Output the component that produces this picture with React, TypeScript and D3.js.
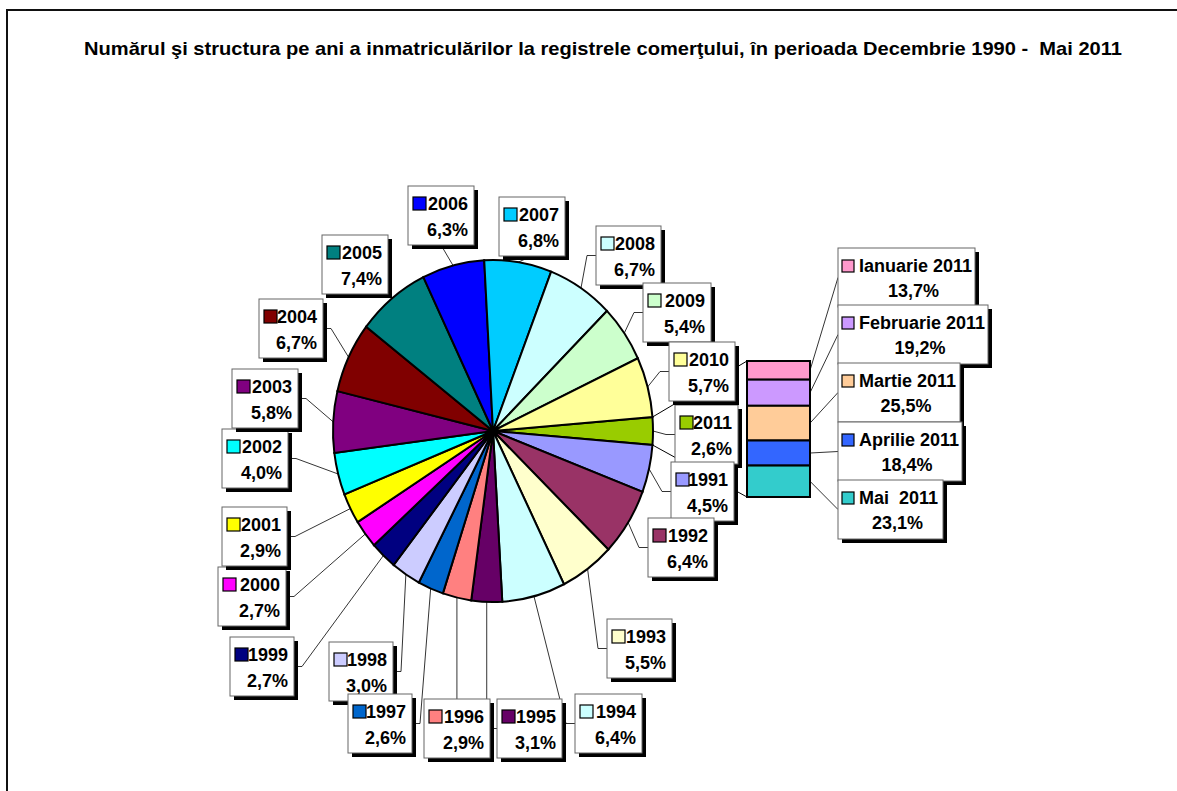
import * as d3 from 'd3';

const title =
  'Numărul şi structura pe ani a inmatriculărilor la registrele comerţului, în perioada Decembrie 1990 -  Mai 2011';

// main pie: 2011 is the slice that is split into months
const years = ['2011', '1991', '1992', '1993', '1994', '1995', '1996', '1997', '1998', '1999', '2000',
  '2001', '2002', '2003', '2004', '2005', '2006', '2007', '2008', '2009', '2010'];
const yearShares = [2.6, 4.5, 6.4, 5.5, 6.4, 3.1, 2.9, 2.6, 3.0, 2.7, 2.7, 2.9, 4.0, 5.8, 6.7, 7.4, 6.3, 6.8, 6.7, 5.4, 5.7];
const yearColors = ['#99cc00', '#9999ff', '#993366', '#ffffcc', '#ccffff', '#660066', '#ff8080', '#0066cc',
  '#ccccff', '#000080', '#ff00ff', '#ffff00', '#00ffff', '#800080', '#800000', '#008080', '#0000ff',
  '#00ccff', '#ccffff', '#ccffcc', '#ffff99'];

// secondary bar
const months = ['Ianuarie 2011', 'Februarie 2011', 'Martie 2011', 'Aprilie 2011', 'Mai  2011'];
const monthShares = [13.7, 19.2, 25.5, 18.4, 23.1];
const monthColors = ['#ff99cc', '#cc99ff', '#ffcc99', '#3366ff', '#33cccc'];

// label box placement: x, y, width, side where the leader line meets the box
const yearBoxes: Record<string, [number, number, number, string]> = {
  '2011': [675, 405, 63, 'l'],
  '1991': [671, 462, 63, 'l'],
  '1992': [648, 518, 66, 'l'],
  '1993': [607, 619, 65, 'l'],
  '1994': [575, 694, 67, 'l'],
  '1995': [497, 699, 65, 'v'],
  '1996': [424, 699, 66, 't'],
  '1997': [348, 694, 64, 'r'],
  '1998': [329, 642, 64, 'r'],
  '1999': [230, 637, 64, 'r'],
  '2000': [218, 567, 68, 'r'],
  '2001': [222, 507, 65, 'r'],
  '2002': [222, 429, 66, 'r'],
  '2003': [232, 369, 66, 'r'],
  '2004': [259, 299, 64, 'r'],
  '2005': [322, 235, 66, 'n'],
  '2006': [408, 186, 66, 'b'],
  '2007': [499, 197, 66, 'b'],
  '2008': [596, 226, 65, 'l'],
  '2009': [643, 283, 68, 'l'],
  '2010': [669, 342, 66, 'l'],
};
// drawing order of the boxes (later ones on top)
const boxOrder = ['2011', '1991', '1992', '1993', '1994', '1995', '1996', '1998', '1997', '1999', '2000',
  '2001', '2002', '2003', '2004', '2005', '2006', '2007', '2008', '2009', '2010'];
const monthBoxes: [number, number, number][] = [
  [838, 248, 137],
  [838, 305, 150],
  [838, 363, 122],
  [838, 422, 124],
  [838, 480, 105],
];

const W = 1177;
const H = 791;
const cx = 493;
const cy = 431;
const rx = 160;
const ry = 171;
const boxH = 59;
const font = '"Liberation Sans", Arial, sans-serif';

const fmt = (v: number) => v.toFixed(1).replace('.', ',') + '%';

export default function App() {
  const total = d3.sum(yearShares);
  const start = Math.PI / 2 - (yearShares[0] / total) * Math.PI;
  const pie = d3
    .pie<number>()
    .sort(null)
    .startAngle(start)
    .endAngle(start + 2 * Math.PI);
  const arcs = pie(yearShares);
  const arc = d3.arc<d3.PieArcDatum<number>>().innerRadius(0).outerRadius(rx);
  const edge = (a: number): [number, number] => [cx + rx * Math.sin(a), cy - ry * Math.cos(a)];

  // stacked bar of 2011 months
  const barX = 747;
  const barW = 63;
  const y = d3.scaleLinear().domain([0, d3.sum(monthShares)]).range([361, 497]);
  const cum = d3.cumsum(monthShares);
  const segs = monthShares.map((v, i) => ({ y0: y(cum[i] - v), y1: y(cum[i]) }));

  const line = d3.line();

  const leader = (i: number): [number, number][] | null => {
    const a = (arcs[i].startAngle + arcs[i].endAngle) / 2;
    const p = edge(a);
    const [x, by, w, side] = yearBoxes[years[i]];
    const my = by + boxH / 2;
    if (side === 'l') return [p, [x - 9, my], [x, my]];
    if (side === 'r') return [p, [x + w + 8, my], [x + w, my]];
    if (side === 't') return [p, [p[0], by]];
    if (side === 'b') return [p, [x + w / 2, by + boxH]];
    if (side === 'v') return [p, [p[0], my], [x, my]];
    return null;
  };

  return (
    <svg width={W} height={H} style={{ position: 'absolute', left: 0, top: 0, background: '#fff' }}>
      <rect x={7} y={10} width={W + 20} height={H + 20} fill="#fff" stroke="#111" strokeWidth={2} />
      <text
        x={603}
        y={55}
        textAnchor="middle"
        fontFamily={font}
        fontWeight="bold"
        fontSize={19}
        textLength={1038}
        lengthAdjust="spacingAndGlyphs"
        style={{ whiteSpace: 'pre' }}
      >
        {title}
      </text>

      <g transform={`translate(${cx},${cy}) scale(1,${ry / rx})`}>
        {arcs.map((d, i) => (
          <path
            key={years[i]}
            d={arc(d) ?? ''}
            fill={yearColors[i]}
            stroke="#000"
            strokeWidth={2}
            vectorEffect="non-scaling-stroke"
          />
        ))}
      </g>

      {/* connectors from the 2011 slice to the bar */}
      <path d={line([edge(arcs[0].startAngle), [barX, y(0)]]) ?? ''} stroke="#000" strokeWidth={1} fill="none" />
      <path
        d={line([edge(arcs[0].endAngle), [barX, y(d3.sum(monthShares))]]) ?? ''}
        stroke="#000"
        strokeWidth={1}
        fill="none"
      />

      {segs.map((s, i) => (
        <rect
          key={months[i]}
          x={barX}
          y={s.y0}
          width={barW}
          height={s.y1 - s.y0}
          fill={monthColors[i]}
          stroke="#000"
          strokeWidth={2}
        />
      ))}

      {/* leader lines */}
      {years.map((yr, i) => {
        const pts = leader(i);
        return pts ? <path key={yr} d={line(pts) ?? ''} stroke="#000" strokeWidth={0.8} fill="none" /> : null;
      })}
      {segs.map((s, i) => {
        const [bx, by] = monthBoxes[i];
        return (
          <path
            key={months[i]}
            d={line([[barX + barW, (s.y0 + s.y1) / 2], [bx, by + boxH / 2]]) ?? ''}
            stroke="#000"
            strokeWidth={0.8}
            fill="none"
          />
        );
      })}

      {/* year labels */}
      {boxOrder.map((yr) => {
        const i = years.indexOf(yr);
        const [x, by, w] = yearBoxes[yr];
        return (
          <g key={yr} fontFamily={font} fontWeight="bold" fontSize={18}>
            <rect x={x + 4} y={by + 4} width={w} height={boxH} fill="#000" />
            <rect x={x} y={by} width={w} height={boxH} fill="#fff" stroke="#666" strokeWidth={1} />
            <rect x={x + 5} y={by + 11} width={13} height={13} fill={yearColors[i]} stroke="#000" strokeWidth={1.2} />
            <text x={x + w - 6} y={by + 24} textAnchor="end">{yr}</text>
            <text x={x + w - 6} y={by + 50} textAnchor="end">{fmt(yearShares[i])}</text>
          </g>
        );
      })}

      {/* month labels */}
      {months.map((m, i) => {
        const [x, by, w] = monthBoxes[i];
        return (
          <g key={m} fontFamily={font} fontWeight="bold" fontSize={18}>
            <rect x={x + 4} y={by + 4} width={w} height={boxH} fill="#000" />
            <rect x={x} y={by} width={w} height={boxH} fill="#fff" stroke="#666" strokeWidth={1} />
            <rect x={x + 4} y={by + 12} width={12} height={12} fill={monthColors[i]} stroke="#000" strokeWidth={1.2} />
            <text x={x + 21} y={by + 24} style={{ whiteSpace: 'pre' }}>{m}</text>
            <text x={x + w / 2 + 7} y={by + 49} textAnchor="middle">{fmt(monthShares[i])}</text>
          </g>
        );
      })}
    </svg>
  );
}
